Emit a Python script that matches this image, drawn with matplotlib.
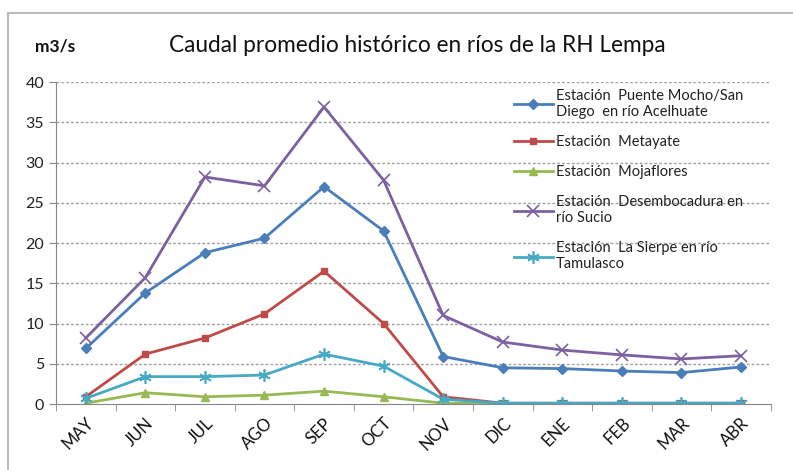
"""
Caudal promedio historico en rios de la RH Lempa
"""

import matplotlib.pyplot as plt
from matplotlib.lines import Line2D

MONTHS = ["MAY", "JUN", "JUL", "AGO", "SEP", "OCT",
          "NOV", "DIC", "ENE", "FEB", "MAR", "ABR"]

PUENTE_MOCHO = [6.9, 13.8, 18.8, 20.6, 27.0, 21.5, 5.9, 4.5, 4.4, 4.1, 3.9, 4.6]
METAYATE = [0.9, 6.2, 8.2, 11.2, 16.5, 10.0, 0.9, 0.1, 0.1, 0.1, 0.1, 0.1]
MOJAFLORES = [0.1, 1.4, 0.9, 1.1, 1.6, 0.9, 0.1, 0.05, 0.05, 0.05, 0.05, 0.05]
DESEMBOCADURA = [8.2, 15.7, 28.2, 27.1, 36.9, 27.8, 11.0, 7.7, 6.7, 6.1, 5.6, 6.0]
LA_SIERPE = [0.7, 3.4, 3.4, 3.6, 6.2, 4.7, 0.6, 0.1, 0.1, 0.1, 0.1, 0.1]

LABELS = [
    "Estación  Puente Mocho/San\nDiego  en río Acelhuate",
    "Estación  Metayate",
    "Estación  Mojaflores",
    "Estación  Desembocadura en\nrío Sucio",
    "Estación  La Sierpe en río\nTamulasco",
]

plt.rcParams["font.family"] = ["Lato", "DejaVu Sans"]

fig = plt.figure(figsize=(7.93, 4.70), dpi=100)
ax = fig.add_axes([0.0706, 0.1404, 0.9014, 0.6851])

x = list(range(len(MONTHS)))
ax.plot(x, PUENTE_MOCHO, color="#4a7ebb", lw=2, marker="D", ms=5.5)
ax.plot(x, METAYATE, color="#be4b48", lw=2, marker="s", ms=5)
ax.plot(x, MOJAFLORES, color="#98b954", lw=2, marker="^", ms=6)
ax.plot(x, DESEMBOCADURA, color="#7d60a0", lw=2, marker="x", ms=8, mew=1.2)
ax.plot(x, LA_SIERPE, color="#46aac5", lw=2, marker=(6, 2, 0), ms=9, mew=1.2)

ax.set_xlim(-0.5, len(MONTHS) - 0.5)
ax.set_ylim(0, 40)
ax.set_yticks(range(0, 41, 5))
ax.set_xticks(x)
ax.set_xticklabels(MONTHS, rotation=45, ha="right", rotation_mode="anchor",
                   fontsize=12)
ax.tick_params(axis="x", length=0, pad=8, labelcolor="#111111")
ax.tick_params(axis="y", labelsize=11.5, length=5,
               color="#868686", labelcolor="#222222")
# category boundary ticks under the axis
ax.set_xticks([i - 0.5 for i in range(len(MONTHS) + 1)], minor=True)
ax.tick_params(axis="x", which="minor", length=5, color="#868686")

for v in range(5, 41, 5):
    ax.axhline(v, color="#a0a0a0", lw=1, ls=(0, (2, 1.5)), zorder=0)

for side in ["top", "right"]:
    ax.spines[side].set_visible(False)
ax.spines["left"].set_color("#868686")
ax.spines["bottom"].set_color("#868686")

handles = [
    Line2D([], [], color="#4a7ebb", lw=2, marker="D", ms=5),
    Line2D([], [], color="#be4b48", lw=2, marker="s", ms=4.5),
    Line2D([], [], color="#98b954", lw=2, marker="^", ms=5.5),
    Line2D([], [], color="#7d60a0", lw=2, marker="x", ms=8, mew=1.2),
    Line2D([], [], color="#46aac5", lw=2, marker=(6, 2, 0), ms=9, mew=1.2),
]
ax.legend(handles, LABELS, loc="upper left", bbox_to_anchor=(0.622, 1.02),
          frameon=False, fontsize=10.5, labelspacing=1.1, handlelength=2.7,
          handletextpad=0.2, labelcolor="#222222")

fig.text(0.526, 0.904, "Caudal promedio histórico en ríos de la RH Lempa",
         ha="center", va="center", fontsize=16.3, color="#111111")
fig.text(0.044, 0.90, "m3/s", ha="left", va="center", fontsize=12.5,
         fontweight="bold", color="#111111")

# outer chart frame
fig.add_artist(Line2D([0.01, 0.01], [0.0, 0.972], color="#bbbbbb", lw=1.5))
fig.add_artist(Line2D([0.01, 1.0], [0.972, 0.972], color="#bbbbbb", lw=1.5))

fig.savefig("out.png", dpi=100)
